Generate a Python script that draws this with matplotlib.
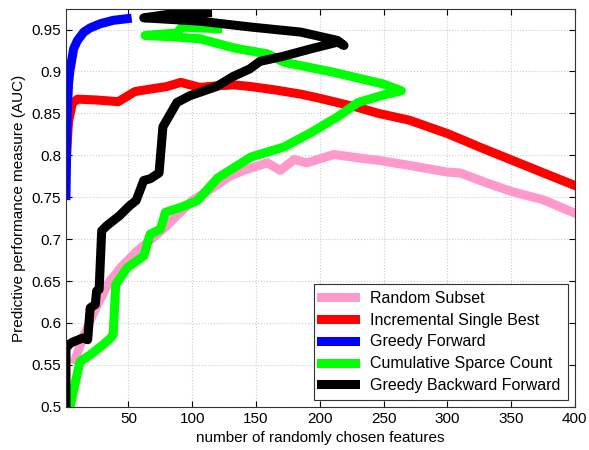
import numpy as np
import matplotlib
matplotlib.use('Agg')
import matplotlib.pyplot as plt

plt.rcParams['font.family'] = ['Liberation Sans', 'DejaVu Sans']

# Random Subset
rs_x = [8, 15, 22, 34, 45, 57, 68, 80, 100, 120, 128, 140, 159, 169, 180, 190, 211, 230, 246, 270, 300, 310, 331, 350, 375, 400]
rs_y = [0.556, 0.585, 0.61, 0.647, 0.668, 0.686, 0.70, 0.716, 0.746, 0.765, 0.774, 0.782, 0.791, 0.782, 0.795, 0.791, 0.801, 0.797, 0.794, 0.788, 0.780, 0.779, 0.767, 0.757, 0.747, 0.731]

# Incremental Single Best
isb_x = [1, 3, 6, 10, 25, 42, 55, 67, 80, 91, 106, 120, 133, 146, 165, 185, 200, 211, 230, 246, 270, 300, 325, 351, 377, 400]
isb_y = [0.79, 0.84, 0.862, 0.867, 0.866, 0.864, 0.876, 0.879, 0.882, 0.887, 0.881, 0.883, 0.884, 0.882, 0.878, 0.873, 0.868, 0.864, 0.857, 0.85, 0.842, 0.826, 0.81, 0.794, 0.778, 0.764]

# Greedy Forward
gf_x = [1, 2, 3, 4, 7, 10, 15, 20, 28, 38, 49]
gf_y = [0.752, 0.85, 0.885, 0.9, 0.927, 0.937, 0.947, 0.952, 0.957, 0.961, 0.963]

# Cumulative Sparce Count
csc_x = [4, 7, 12, 20, 30, 36, 38, 40, 49, 62, 67, 75, 79, 91, 104, 120, 146, 172, 193, 214, 230, 250, 264,
         250, 211, 172, 159, 133, 106, 88, 63, 88, 92, 120]
csc_y = [0.498, 0.52, 0.554, 0.562, 0.574, 0.582, 0.586, 0.646, 0.666, 0.68, 0.706, 0.712, 0.732, 0.738, 0.746, 0.773, 0.798, 0.81, 0.827, 0.846, 0.863, 0.872, 0.877,
         0.885, 0.899, 0.911, 0.921, 0.928, 0.939, 0.941, 0.943, 0.946, 0.953, 0.951]

# Greedy Backward Forward
gbf_x = [1, 1, 4, 6, 14, 18, 20, 24, 25, 27, 29, 33, 43, 51, 56, 62, 67, 74, 77, 88, 98, 119, 132, 145, 153, 171, 193, 214, 219,
         214, 185, 146, 106, 62, 85, 112]
gbf_y = [0.5, 0.57, 0.575, 0.577, 0.582, 0.58, 0.618, 0.622, 0.638, 0.64, 0.71, 0.716, 0.728, 0.74, 0.746, 0.77, 0.772, 0.779, 0.834, 0.863, 0.871, 0.882, 0.894, 0.903, 0.912, 0.918, 0.927, 0.935, 0.931,
         0.937, 0.947, 0.953, 0.96, 0.964, 0.969, 0.970]

fig = plt.figure(figsize=(5.89, 4.5), dpi=100)
ax = fig.add_axes([0.112, 0.096, 0.864, 0.883])

lw = 6.5
ax.plot(rs_x, rs_y, color='#ff99cc', lw=lw, label='Random Subset')
ax.plot(isb_x, isb_y, color='#ff0000', lw=lw, label='Incremental Single Best')
ax.plot(gf_x, gf_y, color='#0000ff', lw=lw, label='Greedy Forward')
ax.plot(csc_x, csc_y, color='#00ff00', lw=lw, label='Cumulative Sparce Count')
ax.plot(gbf_x, gbf_y, color='#000000', lw=lw, label='Greedy Backward Forward')

ax.set_xlim(1, 400)
ax.set_ylim(0.5, 0.974)
ax.set_xticks(np.arange(50, 401, 50))
ax.set_yticks(np.arange(0.5, 0.951, 0.05))
ax.set_yticklabels(['0.5', '0.55', '0.6', '0.65', '0.7', '0.75', '0.8', '0.85', '0.9', '0.95'])
ax.grid(True, linestyle=':', color='#cccccc', lw=0.8)
ax.tick_params(direction='in', top=True, right=True, length=4, labelsize=11)
for s in ax.spines.values():
    s.set_color('#333333')
    s.set_linewidth(0.8)

ax.set_xlabel('number of randomly chosen features', size=11)
ax.set_ylabel('Predictive performance measure (AUC)', size=11)

leg = ax.legend(loc='lower right', bbox_to_anchor=(0.986, 0.017), fontsize=11.5,
                handlelength=2.1, handletextpad=0.95, borderpad=0.45, borderaxespad=0,
                fancybox=False, edgecolor='#333333', framealpha=1, labelspacing=0.42)
leg.get_frame().set_linewidth(0.8)

fig.savefig('out.png', dpi=100)
